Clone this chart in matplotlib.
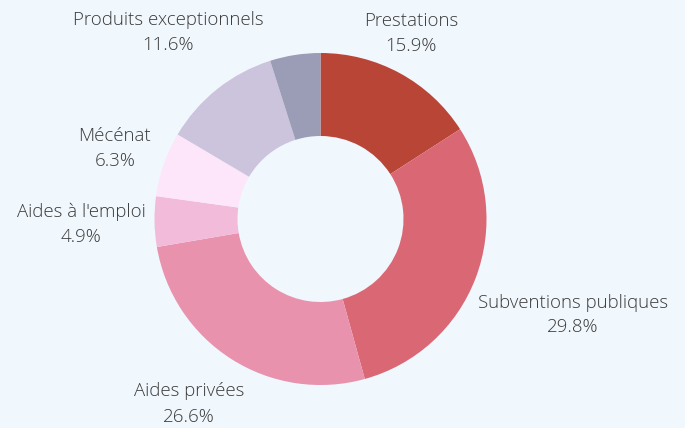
import matplotlib.pyplot as plt

# Data
labels = ['Prestations', 'Subventions publiques', 'Aides privées',
          "Aides à l'emploi", 'Mécénat', 'Produits exceptionnels', '']
values = [15.9, 29.8, 26.6, 4.9, 6.3, 11.6, 4.9]
colors = ['#B94536', '#D96874', '#E892AD', '#F2BBDA', '#FDE6FA', '#CCC4DD', '#9A9DB5']

bg = '#F0F7FD'
plt.rcParams['font.family'] = ['Open Sans', 'DejaVu Sans']

W, H = 685, 428
fig = plt.figure(figsize=(W / 100, H / 100), dpi=100, facecolor=bg)
ax = fig.add_axes([0, 0, 1, 1])
ax.set_facecolor(bg)

cx, cy, r = 320.5, H - 219, 166
wedges, _ = ax.pie(values, colors=colors, startangle=90, counterclock=False,
                   center=(cx, cy), radius=r,
                   wedgeprops=dict(width=r * 0.5, linewidth=0))
ax.set_xlim(0, W)
ax.set_ylim(0, H)
ax.set_aspect('equal')
ax.axis('off')

# label block centres in pixels (x, y from top)
label_pos = [(411, 33), (573, 315), (189, 404), (81, 224), (115, 148), (168, 32), None]
for lab, v, pos in zip(labels, values, label_pos):
    if not lab or pos is None:
        continue
    ax.text(pos[0], H - pos[1], f'{lab}\n{v:.1f}%', ha='center', va='center',
            fontsize=13.4, color='#3a3a3a', linespacing=1.5, fontweight='light')

fig.savefig('out.png', dpi=100, facecolor=bg)
